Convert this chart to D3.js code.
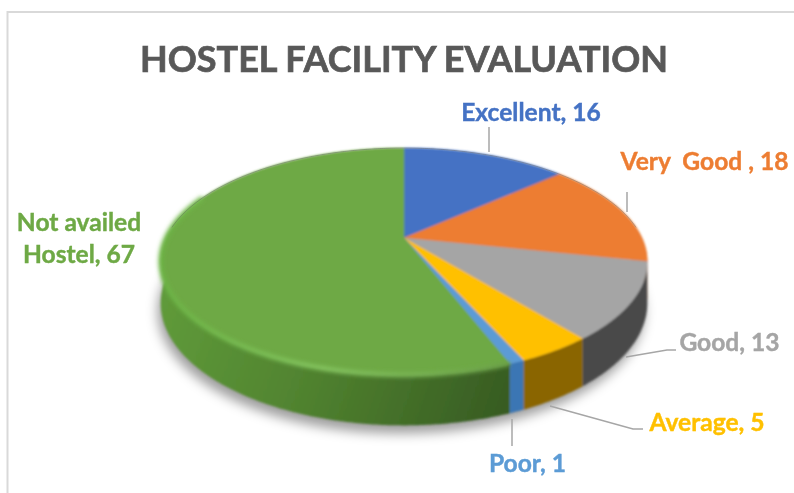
<!DOCTYPE html>
<html>
<head>
<meta charset="utf-8">
<script src="https://cdn.jsdelivr.net/npm/d3@7"></script>
<style>
  html, body { margin: 0; background: #fff; }
  svg { display: block; }
  text { font-family: Lato, sans-serif; font-weight: 700; white-space: pre; }
</style>
</head>
<body>
<div id="chart"></div>
<script>
"use strict";

const categories = ["Excellent", "Very  Good ", "Good", "Average", "Poor", "Not availed Hostel"];
const values = [16, 18, 13, 5, 1, 67];
const topColors = ["#4472c4", "#ed7d31", "#a5a5a5", "#ffc000", "#5b9bd5", "#6ea945"];
const sideColors = ["#2f5597", "#ae5a21", "#4a4a4a", "#8a6500", "#3a76b4", "#4c7a30"];

const width = 794, height = 493;

// centre of the disc as it lands in the picture, tilt gives the perspective
const cx = 404, cy = 238;
const radiusX = 238, radiusY = 108.6, tilt = -0.207, depth = 40;

const svg = d3.select("#chart").append("svg")
    .attr("width", width)
    .attr("height", height);

const defs = svg.append("defs");
[["soft", 1], ["bevel", 2.2], ["shadow", 6], ["textSoft", 0.4]].forEach(([id, dev]) => {
    defs.append("filter").attr("id", id)
        .attr("x", "-20%").attr("y", "-20%").attr("width", "140%").attr("height", "140%")
        .append("feGaussianBlur").attr("stdDeviation", dev);
});

// chart frame, only its top and left edges are inside the crop
svg.append("path")
    .attr("d", d3.line()([[width, 12], [7.5, 12], [7.5, height]]))
    .attr("fill", "none")
    .attr("stroke", "#d9d9d9")
    .attr("stroke-width", 2);

const arcs = d3.pie().sort(null).value(d => d)(values);

function project(angle, r, drop) {
    const u = Math.sin(angle) * r, v = -Math.cos(angle) * r;
    const w = 1 + tilt * v;
    return [cx + radiusX * u / w, cy + radiusY * v / w + (drop || 0) / w];
}

function rimPoints(a0, a1, drop) {
    const n = Math.max(2, Math.ceil((a1 - a0) / 0.01));
    return d3.range(n + 1).map(i => project(a0 + (a1 - a0) * i / n, 1, drop));
}

const line = d3.line();
const closed = pts => line(pts) + "Z";

// drop shadow under the disc
svg.append("path")
    .attr("d", closed(rimPoints(0, 2 * Math.PI, depth)))
    .attr("transform", "translate(-3,8)")
    .attr("fill", "#000")
    .attr("fill-opacity", 0.38)
    .attr("filter", "url(#shadow)");

const pieGroup = svg.append("g").attr("filter", "url(#soft)");

// the big green side gets lighter towards the left
const sideGreen = defs.append("linearGradient").attr("id", "sideGreen")
    .attr("gradientUnits", "userSpaceOnUse")
    .attr("x1", 165).attr("y1", 300).attr("x2", 510).attr("y2", 420);
[[0, "#5f9a3a"], [0.45, "#50822f"], [1, "#365a22"]].forEach(([o, c]) => {
    sideGreen.append("stop").attr("offset", o).attr("stop-color", c);
});

pieGroup.selectAll("path.side")
    .data(arcs)
    .join("path")
    .attr("class", "side")
    .attr("d", d => closed(rimPoints(d.startAngle, d.endAngle, 0)
        .concat(rimPoints(d.startAngle, d.endAngle, depth).reverse())))
    .attr("fill", d => d.index === 5 ? "url(#sideGreen)" : sideColors[d.index]);

pieGroup.selectAll("path.slice")
    .data(arcs)
    .join("path")
    .attr("class", "slice")
    .attr("d", d => closed([project(0, 0)].concat(rimPoints(d.startAngle, d.endAngle, 0))))
    .attr("fill", d => topColors[d.index])
    .attr("stroke", d => topColors[d.index])
    .attr("stroke-width", 0.5);

// bevel along the front edge of the green slice
const bevel = defs.append("linearGradient").attr("id", "bevelGreen")
    .attr("gradientUnits", "userSpaceOnUse")
    .attr("x1", 165).attr("y1", 0).attr("x2", 510).attr("y2", 0);
[[0, "#6cb545"], [0.45, "#86c862"], [0.8, "#76b052"], [1, "#6a9f48"]].forEach(([o, c]) => {
    bevel.append("stop").attr("offset", o).attr("stop-color", c);
});

const greenArc = arcs[5];
svg.append("path")
    .attr("d", line(rimPoints(greenArc.startAngle, greenArc.startAngle + 2.35, 0)))
    .attr("fill", "none")
    .attr("stroke", "url(#bevelGreen)")
    .attr("stroke-width", 4.5)
    .attr("filter", "url(#bevel)");

// thin dark line round the back of the disc
svg.append("path")
    .attr("d", line(rimPoints(-Math.PI / 2 + 0.1, Math.PI / 2 - 0.1, 0)))
    .attr("fill", "none")
    .attr("stroke", "#555")
    .attr("stroke-opacity", 0.4)
    .attr("stroke-width", 1);

// leader lines, same order as categories
const leaders = [
    [[489, 152], [489, 127]],
    [[627, 192], [627, 212]],
    [[626, 357], [667, 350], [676, 350]],
    [[550, 406], [633, 429], [643, 429]],
    [[512, 419], [512, 446]]
];

svg.selectAll("path.leader")
    .data(leaders)
    .join("path")
    .attr("class", "leader")
    .attr("d", d => line(d))
    .attr("fill", "none")
    .attr("stroke", "#a6a6a6")
    .attr("stroke-width", 1.5);

const labelGroup = svg.append("g").attr("filter", "url(#textSoft)");

labelGroup.append("text")
    .attr("x", 404)
    .attr("y", 72)
    .attr("text-anchor", "middle")
    .attr("font-size", 36)
    .attr("fill", "#595959")
    .attr("stroke", "#595959")
    .attr("stroke-width", 0.7)
    .text("HOSTEL FACILITY EVALUATION");

// label anchors, index follows categories
const labelAt = [[531, 121], [704.5, 170], [729.5, 351], [707, 431], [527.5, 472]];

labelGroup.selectAll("text.label")
    .data(arcs.slice(0, 5))
    .join("text")
    .attr("class", "label")
    .attr("x", d => labelAt[d.index][0])
    .attr("y", d => labelAt[d.index][1])
    .attr("text-anchor", "middle")
    .attr("font-size", 24.6)
    .attr("fill", d => topColors[d.index])
    .attr("stroke", d => topColors[d.index])
    .attr("stroke-width", 0.4)
    .text(d => `${categories[d.index]}, ${d.value}`);

// the last one wraps on two lines
labelGroup.selectAll("text.wrapped")
    .data(["Not availed", `Hostel, ${values[5]}`])
    .join("text")
    .attr("class", "wrapped")
    .attr("x", 79)
    .attr("y", (d, i) => 231 + i * 32)
    .attr("text-anchor", "middle")
    .attr("font-size", 24.6)
    .attr("fill", topColors[5])
    .attr("stroke", topColors[5])
    .attr("stroke-width", 0.4)
    .text(d => d);
</script>
</body>
</html>
